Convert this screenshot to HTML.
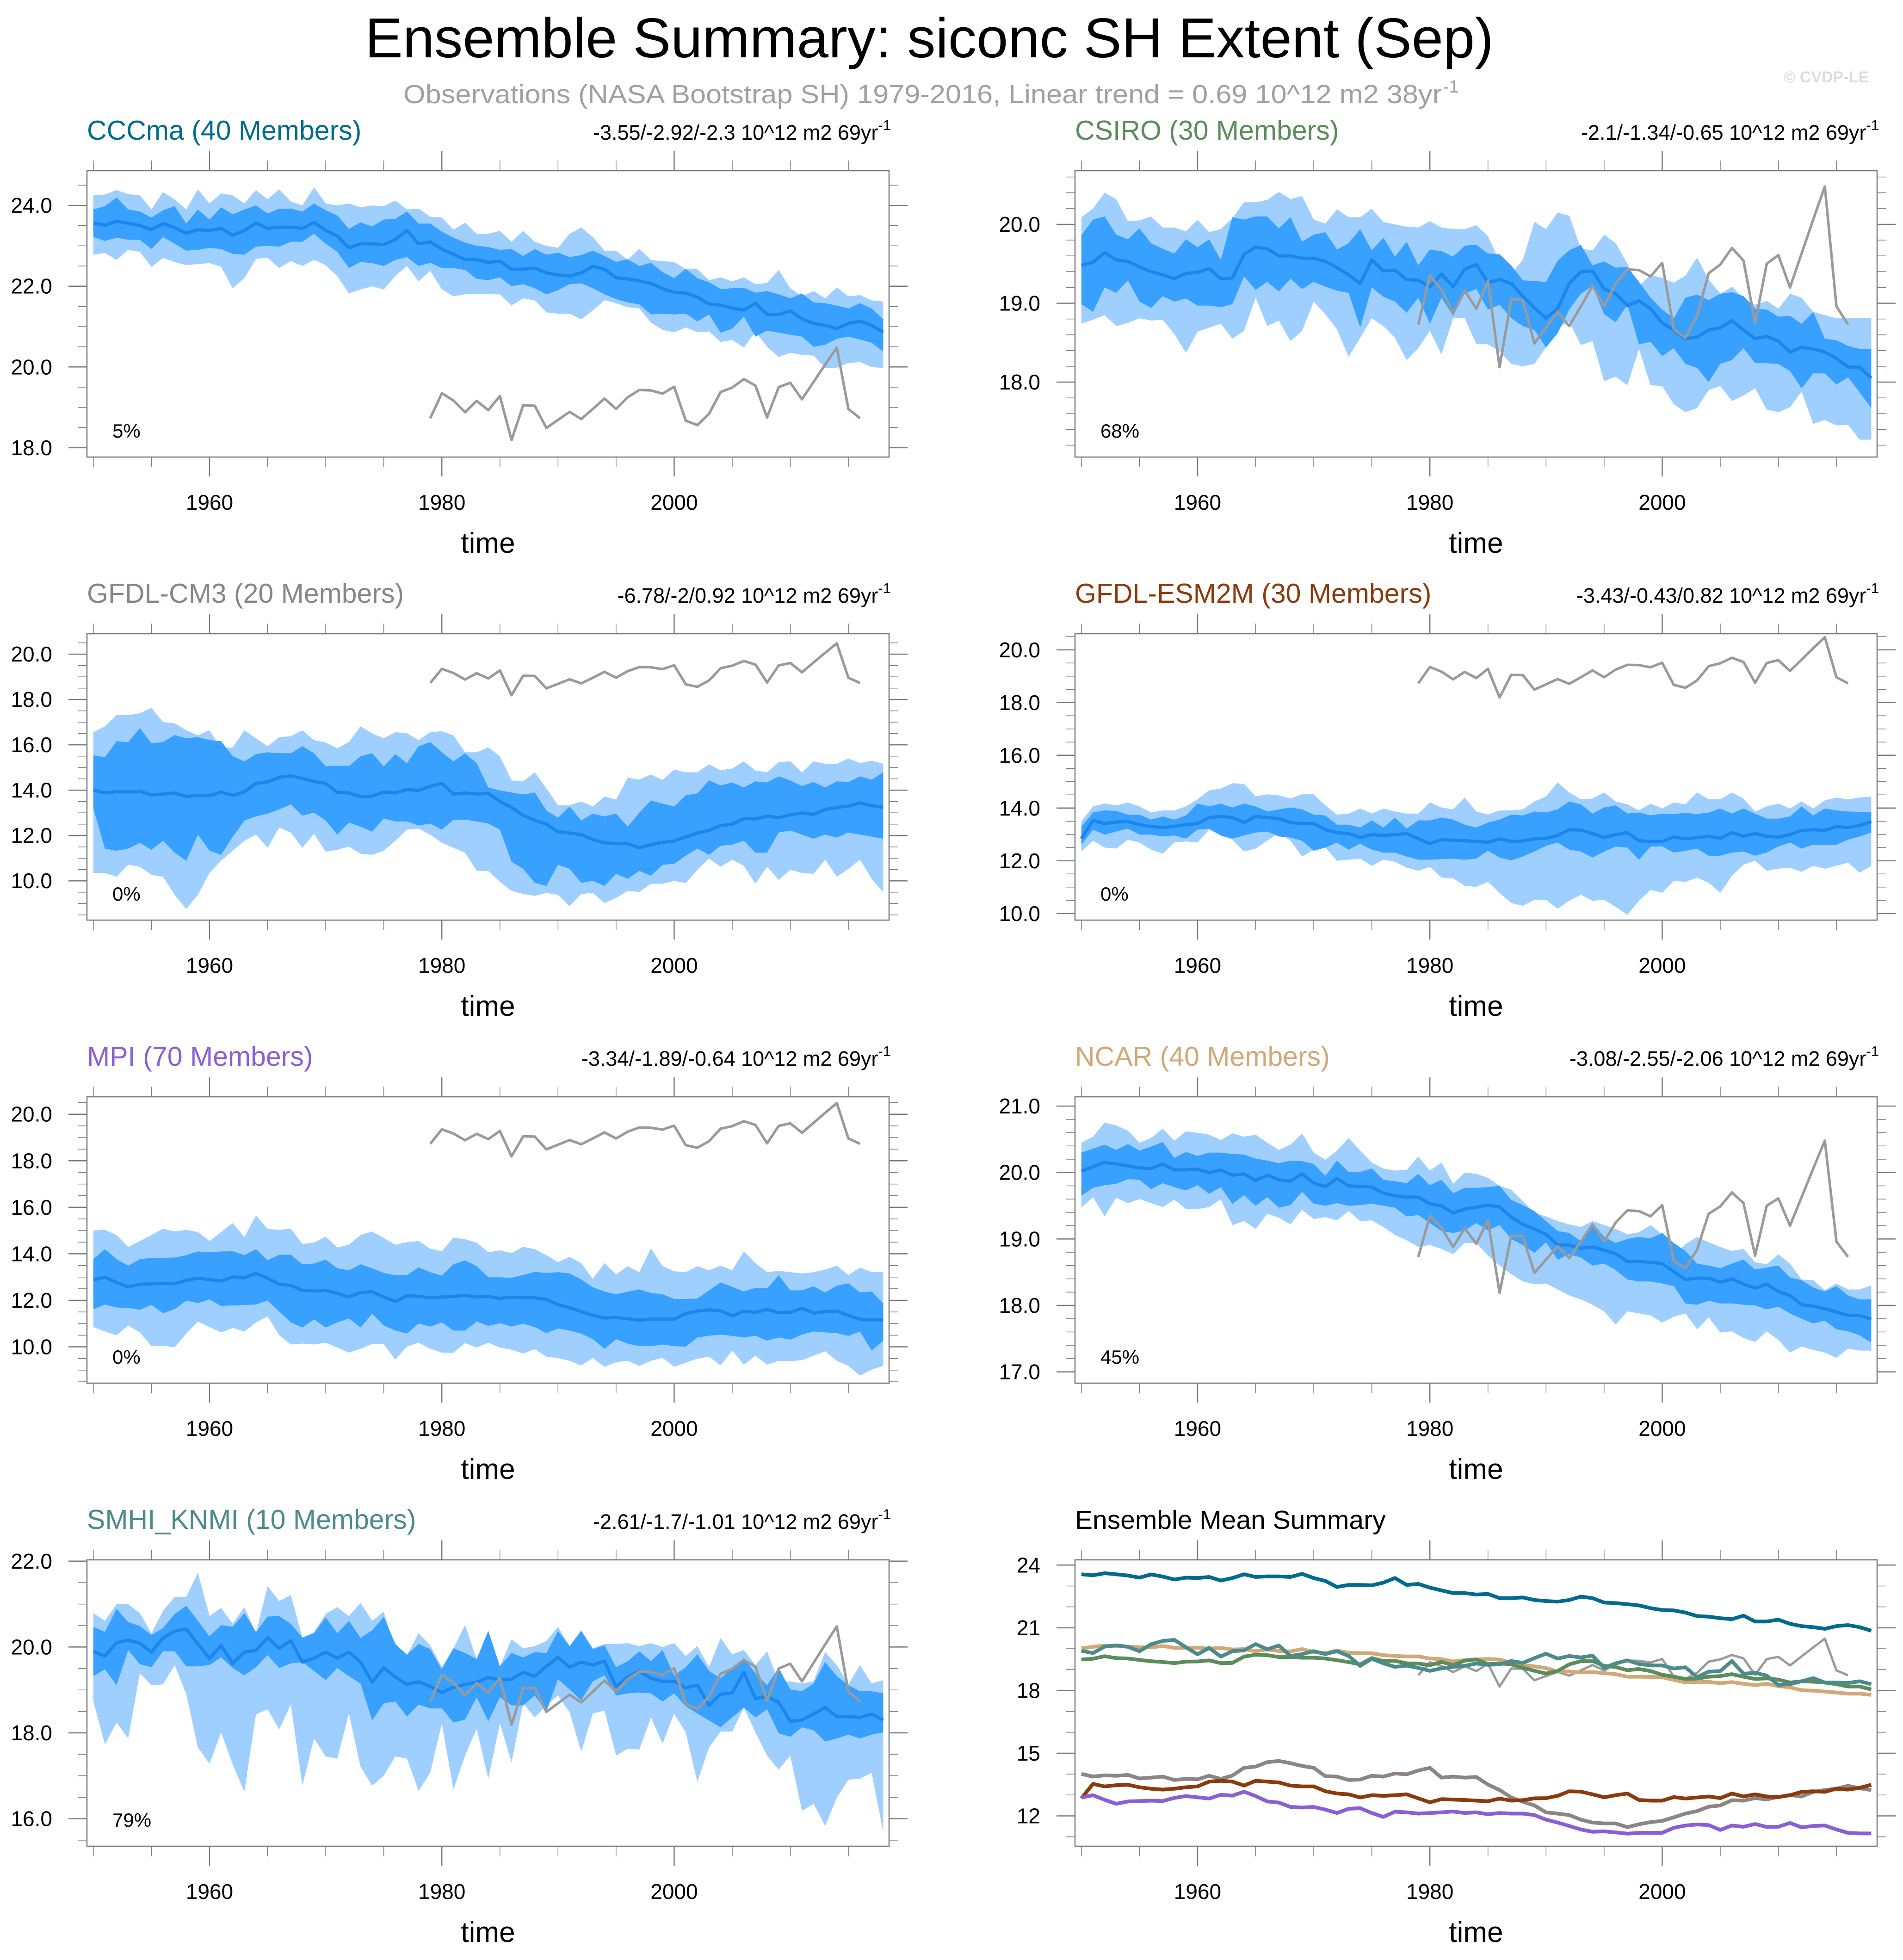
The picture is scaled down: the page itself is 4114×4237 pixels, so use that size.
<!DOCTYPE html>
<html><head><meta charset="utf-8"><title>Ensemble Summary: siconc SH Extent (Sep)</title>
<style>
html,body{margin:0;padding:0;background:#fff;}
svg{display:block;font-family:"Liberation Sans",Arial,sans-serif;}
</style></head>
<body>
<svg id="chart" xmlns="http://www.w3.org/2000/svg" width="4114" height="4237" viewBox="0 0 4114 4237">
<rect x="0" y="0" width="4114" height="4237" fill="#fff"/>
<text x="2009" y="124" text-anchor="middle" font-size="122" fill="#000" textLength="2440" lengthAdjust="spacingAndGlyphs">Ensemble Summary: siconc SH Extent (Sep)</text>
<text x="872" y="223" font-size="57" fill="#a0a0a0" textLength="2245" lengthAdjust="spacingAndGlyphs">Observations (NASA Bootstrap SH) 1979-2016, Linear trend = 0.69 10^12 m2 38yr</text>
<text x="3120" y="200" font-size="38" fill="#a0a0a0">-1</text>
<text x="4040" y="178" text-anchor="end" font-size="34" font-weight="bold" fill="#dcdcdc">© CVDP-LE</text>
<g id="panels"></g>
</svg>
<script>
// ---- shared data ----
const firstYear = 1950;
const obsFirstYear = 1979;
const xTickYears = [1960, 1980, 2000];
const obsValues = [18.73,19.35,19.17,18.88,19.16,18.93,19.28,18.19,19.05,19.04,18.49,18.69,18.89,18.71,18.96,19.22,18.96,19.25,19.43,19.42,19.34,19.51,18.67,18.56,18.84,19.38,19.49,19.70,19.54,18.75,19.50,19.61,19.20,19.63,20.06,20.48,18.96,18.73];

// ---- CCCma ----
const cccmaMean = [23.56,23.51,23.61,23.56,23.50,23.40,23.55,23.45,23.31,23.40,23.38,23.43,23.26,23.38,23.56,23.43,23.46,23.46,23.43,23.58,23.38,23.24,22.95,23.05,23.05,23.03,23.16,23.38,23.05,23.10,22.92,22.79,22.66,22.66,22.59,22.62,22.42,22.42,22.45,22.33,22.28,22.25,22.33,22.49,22.42,22.21,22.18,22.13,22.07,21.94,21.85,21.83,21.73,21.56,21.53,21.46,21.41,21.58,21.30,21.30,21.39,21.19,21.08,21.03,20.95,21.08,21.13,21.03,20.86];
const cccmaInHi = [23.90,23.98,24.20,23.90,23.85,23.70,23.88,23.98,23.55,23.90,23.65,23.95,23.78,23.90,24.00,23.80,23.92,23.92,23.85,24.05,23.88,23.75,23.42,23.58,23.48,23.65,23.67,23.85,23.55,23.55,23.35,23.20,23.08,23.00,22.97,22.90,22.92,22.75,22.92,22.78,22.83,22.72,22.77,22.88,22.75,22.60,22.67,22.50,22.58,22.35,22.20,22.43,22.20,22.10,21.93,21.95,21.96,21.84,21.88,21.80,21.70,21.82,21.60,21.58,21.52,21.45,21.58,21.45,21.18];
const cccmaInLo = [23.22,23.12,23.20,23.15,23.15,22.92,23.22,23.05,22.88,22.90,22.95,22.92,22.80,22.78,22.98,23.00,22.98,23.10,23.10,23.30,23.05,22.85,22.45,22.60,22.57,22.50,22.65,22.72,22.50,22.58,22.45,22.45,22.40,22.18,22.15,22.22,22.00,22.05,21.95,21.80,21.90,22.05,22.07,21.95,21.80,21.68,21.60,21.55,21.30,21.32,21.30,21.32,21.13,21.30,20.85,20.95,21.25,20.75,20.90,20.85,20.80,20.75,20.50,20.55,20.70,20.75,20.68,20.60,20.38];
const cccmaOutHi = [24.25,24.27,24.38,24.28,24.25,23.90,24.33,24.15,23.90,24.40,24.05,24.30,24.25,24.05,24.38,24.15,24.40,24.10,24.00,24.45,24.05,24.00,24.05,23.95,24.00,23.98,24.12,23.90,23.92,23.72,23.70,23.40,23.57,23.30,23.30,23.37,23.10,23.37,23.10,23.00,22.95,23.30,23.45,23.22,22.88,22.88,22.65,22.93,22.65,22.62,22.60,22.42,22.42,22.15,22.22,22.12,22.22,22.05,22.08,22.40,21.95,21.75,21.88,21.70,21.97,21.75,21.78,21.65,21.62];
const cccmaOutLo = [22.78,22.82,22.65,22.90,22.85,22.48,22.70,22.60,22.52,22.55,22.57,22.48,21.95,22.20,22.68,22.70,22.45,22.62,22.50,22.65,22.52,22.25,21.82,21.92,22.00,21.92,22.25,22.50,22.12,22.38,21.92,21.75,21.80,21.81,21.80,21.80,21.52,21.70,21.65,21.35,21.32,21.32,21.18,21.40,21.65,21.58,21.48,21.45,21.10,20.92,20.86,20.98,20.86,20.88,20.62,20.67,20.48,20.88,20.50,20.25,20.35,20.30,20.28,19.98,19.98,20.10,20.12,20.00,19.97];

// ---- CSIRO ----
const csiroMean = [19.48,19.52,19.64,19.55,19.53,19.46,19.40,19.36,19.31,19.38,19.39,19.44,19.31,19.32,19.62,19.71,19.69,19.60,19.60,19.57,19.57,19.53,19.45,19.36,19.25,19.55,19.41,19.42,19.30,19.29,19.21,19.37,19.21,19.43,19.49,19.26,19.30,19.25,19.09,18.94,18.81,18.93,19.25,19.40,19.41,19.18,19.12,18.97,19.03,18.93,18.75,18.66,18.55,18.57,18.66,18.69,18.78,18.66,18.55,18.58,18.52,18.38,18.44,18.42,18.38,18.30,18.19,18.19,18.05];
const csiroInHi = [19.86,20.06,20.10,19.87,19.81,19.95,19.76,19.69,19.63,19.81,19.71,19.81,19.55,20.09,20.06,20.10,20.10,19.95,20.09,19.78,19.87,19.90,19.68,19.76,19.94,19.67,19.83,19.59,19.78,19.48,19.68,19.66,19.59,19.73,19.74,19.63,19.62,19.48,19.29,19.28,19.27,19.54,19.67,19.74,19.48,19.53,19.45,19.46,19.27,19.07,18.92,18.81,19.07,19.11,19.04,19.12,19.14,19.09,18.93,18.92,18.83,18.84,18.74,18.89,18.55,18.53,18.46,18.42,18.42];
const csiroInLo = [18.99,18.89,19.20,19.13,19.29,19.02,18.94,19.09,19.02,19.06,18.97,18.97,18.95,18.99,19.34,19.17,19.27,19.15,19.31,19.18,19.27,19.21,19.16,19.13,18.69,19.20,19.08,19.02,18.88,19.07,18.74,19.07,18.84,19.12,19.18,18.92,18.98,18.81,18.71,18.66,18.44,18.62,18.92,19.12,19.22,18.86,18.76,18.98,18.48,18.51,18.33,18.43,18.23,18.18,18.00,18.23,18.28,18.43,18.24,18.24,18.23,18.14,17.92,18.11,18.11,17.97,18.06,17.87,17.67];
const csiroOutHi = [20.09,20.20,20.40,20.32,20.04,20.05,20.10,19.96,19.96,19.91,20.06,19.90,19.94,20.08,20.28,20.28,20.31,20.41,20.32,20.36,20.06,20.01,20.19,20.09,20.09,20.20,20.03,20.00,19.97,19.96,20.04,19.96,19.94,19.94,19.99,19.85,19.53,19.37,19.55,20.03,19.94,20.15,20.11,19.69,19.67,19.87,19.76,19.50,19.22,19.36,19.32,19.26,19.35,19.58,19.30,19.12,19.21,19.07,18.98,19.03,18.93,19.12,19.07,18.89,18.85,18.81,18.81,18.81,18.81];
const csiroOutLo = [18.74,18.79,18.85,18.71,18.75,18.81,18.78,18.79,18.61,18.37,18.64,18.69,18.74,18.55,18.65,19.07,18.71,18.78,18.52,18.65,19.02,18.86,18.67,18.32,18.56,18.81,18.71,18.56,18.28,18.43,18.65,18.35,18.81,18.81,18.48,18.48,18.39,18.23,18.20,18.23,18.44,18.69,18.76,18.47,18.52,18.01,18.07,17.96,18.42,17.96,17.95,17.72,17.62,17.67,17.90,17.95,17.76,17.83,17.92,17.65,17.62,17.68,17.88,17.47,17.52,17.45,17.46,17.27,17.27];

// ---- GFDL-CM3 ----
const cm3Mean = [14.01,13.88,13.94,13.92,13.96,13.79,13.83,13.88,13.72,13.77,13.75,13.92,13.77,13.93,14.30,14.36,14.57,14.63,14.52,14.39,14.30,13.90,13.88,13.72,13.74,13.92,13.88,14.03,13.99,14.17,14.30,13.83,13.88,13.83,13.86,13.50,13.24,12.88,12.68,12.50,12.17,12.11,12.04,11.82,11.68,11.64,11.64,11.46,11.60,11.70,11.76,11.93,12.11,12.23,12.44,12.50,12.75,12.73,12.85,12.79,12.91,13.00,12.93,13.15,13.24,13.30,13.44,13.32,13.24];
const cm3InHi = [15.54,15.45,16.16,16.12,16.74,16.07,16.12,16.43,16.29,16.34,16.21,16.16,15.50,15.27,15.59,15.67,15.63,15.63,15.94,15.63,15.05,15.08,15.07,15.50,15.63,15.05,15.59,15.19,15.94,16.12,15.67,15.27,15.63,15.19,14.12,13.99,13.90,13.81,13.90,13.10,12.79,13.28,12.66,12.97,12.84,12.97,12.39,13.01,13.55,13.41,13.28,13.77,13.86,14.43,14.21,14.34,14.12,14.39,14.34,14.61,14.43,14.18,14.36,14.12,14.39,14.36,14.61,14.46,14.79];
const cm3InLo = [13.19,11.42,11.33,11.42,11.68,11.37,11.77,11.24,10.89,12.04,11.33,11.15,11.95,12.66,12.84,12.97,13.15,13.37,12.88,13.01,12.66,12.04,12.57,12.39,12.17,12.75,12.62,12.62,12.44,12.53,12.26,12.70,12.70,12.62,12.53,12.26,10.84,10.53,9.91,9.78,10.71,10.53,9.91,10.00,9.78,10.31,10.09,10.44,10.22,10.71,10.75,11.11,11.42,11.15,11.55,11.60,11.77,11.24,11.24,12.13,12.22,12.04,11.86,12.04,11.91,12.13,12.04,11.95,11.86];
const cm3OutHi = [16.56,16.82,17.31,17.31,17.39,17.63,17.00,16.95,16.64,16.42,16.64,15.85,15.89,16.64,16.29,15.94,16.34,16.38,16.64,16.21,16.10,15.85,16.12,16.82,16.51,16.29,16.56,16.51,16.21,16.56,16.60,16.42,15.67,15.67,15.89,15.50,14.43,14.39,14.79,14.08,13.33,13.33,13.50,13.28,13.72,13.59,14.55,14.47,14.69,14.45,14.91,14.79,14.79,15.14,14.87,14.96,15.27,14.87,14.79,15.23,15.27,14.79,15.27,15.16,15.16,15.40,15.20,15.30,15.16];
const cm3OutLo = [10.35,10.35,10.18,10.71,10.62,10.27,10.18,9.38,8.76,9.38,10.35,10.89,11.33,11.77,12.04,11.46,12.35,12.13,11.46,12.08,11.29,11.37,11.51,11.20,11.15,11.33,11.77,12.26,12.30,12.04,11.68,11.46,11.24,10.44,10.44,9.96,9.56,9.42,9.34,9.47,9.38,8.89,9.42,9.47,9.02,9.25,9.56,9.51,9.87,9.87,10.00,9.91,10.49,10.98,10.62,10.93,10.67,9.87,10.62,10.04,10.49,10.35,10.31,10.93,10.18,10.53,10.93,10.09,9.51];

// ---- GFDL-ESM2M ----
const esmMean = [12.84,13.53,13.41,13.47,13.49,13.37,13.30,13.26,13.30,13.37,13.41,13.64,13.68,13.64,13.45,13.68,13.64,13.60,13.45,13.41,13.41,13.18,13.07,13.03,12.88,12.99,12.96,12.99,13.03,12.84,12.65,12.80,12.78,12.76,12.73,12.70,12.83,12.73,12.75,12.84,12.85,12.96,13.18,13.16,13.03,12.89,12.99,13.07,12.76,12.73,12.73,12.90,12.83,12.88,12.93,12.85,13.07,12.93,13.03,12.93,12.90,12.99,13.15,13.18,13.15,13.30,13.26,13.34,13.49];
const esmInHi = [13.30,13.83,13.91,13.89,13.75,13.75,13.56,13.68,13.56,13.72,14.17,14.06,14.17,14.02,14.17,14.06,13.87,13.95,14.02,13.95,13.75,13.72,13.37,13.37,13.26,13.53,13.26,13.64,13.22,13.53,13.53,13.64,13.56,13.37,13.26,13.45,13.56,13.75,13.72,13.87,13.83,13.95,14.25,14.14,13.79,14.02,14.10,13.79,13.83,13.72,13.79,13.77,13.82,13.77,13.83,13.98,13.79,13.98,13.79,13.60,13.60,13.68,14.06,13.72,13.98,13.91,13.87,13.85,13.83];
const esmInLo = [12.61,13.18,12.99,13.11,13.22,12.99,12.99,12.92,12.96,12.84,13.18,13.22,12.96,12.84,12.96,13.07,13.11,12.92,12.88,12.76,12.38,12.50,12.69,12.42,12.65,12.42,12.31,12.31,12.16,12.04,12.04,12.06,12.08,12.04,12.08,12.38,12.12,12.02,12.16,12.35,12.57,12.69,12.42,12.35,12.12,12.35,12.54,12.50,12.04,12.54,12.55,12.31,12.38,12.46,12.19,12.19,12.31,12.35,12.19,12.31,12.54,12.69,12.46,12.61,12.61,12.61,12.80,12.92,13.07];
const esmOutHi = [13.49,14.06,14.17,14.10,14.21,14.06,13.83,13.91,13.91,14.06,14.33,14.67,14.74,14.94,14.92,14.44,14.52,14.48,14.36,14.52,14.52,14.10,13.75,13.79,13.98,13.79,13.98,13.87,13.79,13.79,14.21,14.02,13.95,14.40,13.87,13.75,13.91,13.91,13.95,14.25,14.44,14.97,14.59,14.33,14.36,14.59,14.25,14.14,13.91,14.17,13.98,14.21,14.14,14.59,14.33,14.33,14.59,14.36,13.87,14.06,14.17,13.98,14.25,13.98,14.29,14.40,14.33,14.40,14.44];
const esmOutLo = [12.35,12.76,12.50,12.46,12.80,12.69,12.42,12.27,12.69,12.73,12.69,13.18,12.96,12.80,12.35,12.46,12.76,13.07,12.76,12.16,12.42,12.50,12.00,12.04,12.08,11.81,12.04,11.96,11.74,11.62,11.77,11.36,11.33,11.05,11.01,11.20,10.78,10.40,10.29,10.52,10.52,10.18,10.48,10.71,10.48,10.52,10.25,9.95,10.48,10.90,10.78,11.24,11.20,11.36,11.17,10.78,11.43,11.85,12.00,11.62,11.70,11.74,11.58,11.81,11.70,11.81,11.93,11.55,11.81];

// ---- MPI ----
const mpiMean = [12.88,12.99,12.77,12.58,12.69,12.71,12.73,12.71,12.86,12.95,12.89,12.83,13.01,12.97,13.16,12.95,12.69,12.64,12.43,12.40,12.43,12.30,12.14,12.34,12.37,12.14,11.95,12.20,12.17,12.11,12.14,12.17,12.21,12.14,12.17,12.08,12.14,12.11,12.11,12.04,11.82,11.68,11.52,11.35,11.24,11.26,11.21,11.15,11.19,11.19,11.19,11.43,11.54,11.59,11.56,11.33,11.54,11.48,11.61,11.47,11.48,11.66,11.45,11.52,11.54,11.35,11.19,11.16,11.16];
const mpiInHi = [13.77,14.20,13.77,13.49,13.77,13.83,13.83,13.84,13.94,14.10,14.07,14.10,14.11,13.94,14.20,13.72,13.96,13.96,13.55,13.58,13.75,13.38,13.29,13.55,13.38,13.18,13.08,13.09,13.42,13.21,13.06,13.55,13.72,13.47,12.99,12.99,12.97,13.09,13.22,13.18,13.21,13.16,12.90,12.56,12.38,12.26,12.37,12.47,12.32,12.26,12.06,12.06,12.08,12.43,12.77,12.58,12.38,12.54,12.51,13.08,12.43,12.43,12.60,12.34,12.63,12.73,12.34,12.38,11.87];
const mpiInLo = [11.62,11.82,11.69,11.68,11.59,11.80,11.45,11.62,11.99,11.88,12.04,11.76,11.78,11.80,11.82,11.99,11.52,11.05,10.83,11.18,10.83,11.05,11.22,10.83,11.42,10.92,10.70,10.57,11.00,10.87,11.05,10.70,10.70,11.09,10.90,11.02,10.87,11.00,10.85,10.59,10.79,10.70,10.57,10.33,9.92,10.33,10.14,10.03,10.03,10.10,10.03,10.01,10.40,10.48,10.53,10.47,10.40,10.48,10.27,10.40,10.31,10.53,10.66,10.62,10.59,10.47,10.66,9.84,10.27];
const mpiOutHi = [15.00,15.03,14.81,14.29,14.55,14.81,15.08,14.96,15.03,14.94,14.55,14.94,15.32,14.72,15.65,15.07,15.03,15.08,14.42,14.48,14.74,14.27,14.39,14.81,14.96,14.68,14.39,14.50,14.55,14.22,14.11,14.70,14.63,14.48,14.07,14.15,14.03,14.30,14.20,13.94,13.64,13.87,13.60,12.92,13.60,13.12,13.47,13.21,14.24,13.47,13.25,13.21,13.47,13.29,13.49,13.29,14.11,13.60,13.21,13.27,13.21,13.16,13.21,13.32,13.49,13.09,13.41,13.21,13.21];
const mpiOutLo = [10.85,10.66,10.50,10.92,10.62,10.03,10.05,9.98,10.57,11.09,10.85,10.62,10.81,10.66,11.05,11.31,10.50,10.10,10.14,10.10,10.18,9.97,9.75,9.92,10.12,10.12,9.45,10.01,10.18,9.92,9.75,9.75,10.16,9.97,10.18,9.97,9.88,9.71,9.90,9.58,9.52,9.40,9.20,9.52,9.14,9.34,9.40,9.18,9.40,9.53,9.14,9.32,9.49,9.58,9.20,9.84,9.23,9.62,9.23,9.40,9.38,9.43,9.62,9.81,9.40,9.18,8.76,9.02,9.18];

// ---- NCAR ----
const ncarMean = [20.02,20.09,20.15,20.13,20.10,20.07,20.06,20.13,20.04,20.04,20.05,20.00,20.04,19.96,19.98,19.88,19.96,19.89,19.87,19.98,19.84,19.79,19.91,19.80,19.79,19.78,19.69,19.65,19.63,19.63,19.53,19.50,19.39,19.45,19.48,19.51,19.48,19.33,19.22,19.15,19.07,18.91,18.91,18.86,18.88,18.83,18.78,18.66,18.66,18.65,18.63,18.51,18.39,18.41,18.41,18.35,18.40,18.32,18.26,18.32,18.21,18.15,18.01,17.99,17.95,17.90,17.85,17.85,17.79];
const ncarInHi = [20.30,20.36,20.42,20.34,20.43,20.33,20.39,20.46,20.22,20.31,20.25,20.30,20.30,20.28,20.27,20.21,20.18,20.14,20.18,20.17,20.13,19.95,20.18,20.01,20.01,20.06,19.89,19.87,19.84,19.98,19.81,19.89,19.69,19.77,19.77,19.78,19.80,19.59,19.51,19.42,19.27,19.12,19.09,18.97,19.24,19.03,18.94,19.00,19.03,19.01,19.09,18.94,18.82,18.63,18.60,18.56,18.63,18.69,18.54,18.57,18.60,18.42,18.38,18.27,18.21,18.29,18.15,18.09,18.09];
const ncarInLo = [19.65,19.77,19.81,19.83,19.90,19.89,19.75,19.84,19.78,19.73,19.81,19.68,19.78,19.53,19.66,19.50,19.63,19.47,19.51,19.71,19.53,19.50,19.54,19.50,19.51,19.53,19.50,19.47,19.34,19.36,19.24,19.12,19.09,19.13,19.24,19.13,19.21,19.00,18.91,18.79,18.95,18.69,18.77,18.72,18.60,18.63,18.53,18.39,18.36,18.36,18.33,18.29,18.03,18.01,18.07,18.03,18.03,18.01,18.00,17.94,17.98,17.88,17.80,17.73,17.77,17.64,17.61,17.55,17.44];
const ncarOutHi = [20.45,20.54,20.75,20.71,20.63,20.45,20.52,20.66,20.48,20.62,20.60,20.57,20.49,20.59,20.54,20.57,20.45,20.34,20.42,20.59,20.30,20.19,20.33,20.52,20.33,20.15,20.06,20.03,20.04,20.24,20.03,20.15,19.83,20.00,19.98,19.92,19.80,19.74,19.57,19.39,19.34,19.27,19.22,19.18,19.27,19.21,19.15,19.07,19.10,19.21,19.07,18.76,18.92,19.03,18.95,18.88,18.82,18.85,18.65,18.62,18.77,18.63,18.39,18.38,18.23,18.33,18.24,18.24,18.30];
const ncarOutLo = [19.47,19.63,19.34,19.62,19.54,19.60,19.54,19.48,19.59,19.45,19.45,19.48,19.60,19.21,19.27,19.15,19.38,19.32,19.22,19.44,19.30,19.33,19.28,19.42,19.27,19.28,19.18,19.06,18.98,18.88,18.91,18.85,18.77,18.94,18.94,18.75,18.60,18.47,18.36,18.32,18.33,18.24,18.15,18.09,18.01,17.91,17.71,17.91,17.88,17.85,17.74,17.83,17.88,17.64,17.82,17.59,17.61,17.51,17.45,17.61,17.48,17.29,17.38,17.33,17.29,17.21,17.35,17.32,17.32];

// ---- SMHI_KNMI ----
const smhiMean = [19.90,19.79,20.10,20.16,20.09,19.88,20.21,20.37,20.42,20.07,19.73,20.04,19.62,19.88,19.92,20.22,19.97,20.15,19.65,19.74,19.88,19.74,19.88,19.65,19.18,19.52,19.30,19.13,19.19,19.08,18.94,19.06,19.13,19.18,19.29,19.23,19.25,19.41,19.32,19.55,19.76,19.53,19.65,19.58,19.67,19.08,19.30,19.44,19.27,19.20,19.20,19.05,19.11,18.64,18.90,18.93,19.41,18.80,18.85,18.71,18.27,18.30,18.44,18.59,18.38,18.38,18.36,18.44,18.30];
const smhiInHi = [20.47,20.35,20.89,20.58,20.49,20.28,20.44,20.77,20.96,20.61,20.25,20.51,20.47,20.79,20.35,20.71,20.72,20.54,20.22,20.32,20.69,20.32,20.61,20.21,20.39,20.70,20.07,19.82,20.07,19.95,19.48,19.97,19.86,19.72,20.37,19.55,19.86,19.76,19.88,19.86,20.37,20.02,20.37,19.95,20.04,19.53,19.67,19.90,19.67,19.93,19.34,19.53,19.83,19.44,19.27,19.53,19.74,19.39,19.11,19.51,19.01,18.97,19.15,19.65,19.32,19.11,18.97,18.97,18.92];
const smhiInLo = [19.32,19.48,19.11,19.93,19.60,19.53,19.90,19.90,19.55,19.55,19.58,19.76,19.51,19.34,19.53,19.81,19.51,19.62,19.65,19.44,19.23,19.51,19.32,19.15,18.29,18.69,18.73,18.38,18.66,18.57,18.57,18.24,18.31,18.83,18.27,18.83,18.64,18.64,18.87,18.50,19.25,19.01,18.76,19.20,19.34,18.87,18.92,18.94,18.92,18.73,18.92,18.62,18.45,18.29,18.13,18.36,18.59,18.36,18.55,17.99,17.91,18.13,18.06,17.80,17.87,17.96,17.87,17.96,18.01];
const smhiOutHi = [20.79,20.61,21.00,21.00,20.79,20.32,20.84,21.17,21.17,21.73,20.72,20.91,20.54,20.93,20.32,21.42,21.07,21.21,20.21,20.35,20.77,20.93,20.72,21.03,20.61,20.82,19.95,19.81,20.32,20.04,19.53,19.97,20.51,19.72,20.39,19.55,20.18,19.97,20.02,20.14,20.47,20.02,20.39,19.97,20.07,20.07,20.09,20.02,20.09,20.00,20.09,19.79,20.02,19.53,20.21,19.83,19.93,19.58,19.90,19.18,19.20,19.15,19.20,19.88,19.58,19.13,19.58,19.15,19.23];
const smhiOutLo = [18.73,17.73,18.24,17.87,19.39,19.11,19.13,19.58,18.90,17.66,17.28,18.01,17.26,16.63,18.43,18.55,18.08,18.66,16.77,17.87,17.45,17.40,18.45,17.21,16.77,17.00,17.45,17.40,16.65,17.07,18.22,16.68,17.47,18.10,16.93,18.22,17.31,18.69,18.36,18.64,18.87,18.48,17.56,18.45,18.52,17.47,17.63,17.61,18.36,17.75,18.45,18.01,16.86,17.66,18.03,18.03,18.59,18.01,17.47,17.14,17.47,16.18,16.35,15.83,16.49,16.91,16.93,17.07,15.69];

// ---- panel configuration (labels/axes) ----
const modelNames = ["CCCma","CSIRO","GFDL-CM3","GFDL-ESM2M","MPI","NCAR","SMHI_KNMI"];
const modelMembers = [40,30,20,30,70,40,10];
const trendLabels = ["-3.55/-2.92/-2.3","-2.1/-1.34/-0.65","-6.78/-2/0.92","-3.43/-0.43/0.82","-3.34/-1.89/-0.64","-3.08/-2.55/-2.06","-2.61/-1.7/-1.01"];
const pctLabels = ["5%","68%","0%","0%","0%","45%","79%"];
const yTicksList = [[18,20,22,24],[18,19,20],[10,12,14,16,18,20],[10,12,14,16,18,20],[10,12,14,16,18,20],[17,18,19,20,21],[16,18,20,22]];
const summaryTicks = [12,15,18,21,24];

const meanSeries = [cccmaMean,csiroMean,cm3Mean,esmMean,mpiMean,ncarMean,smhiMean];
const inHiSeries = [cccmaInHi,csiroInHi,cm3InHi,esmInHi,mpiInHi,ncarInHi,smhiInHi];
const inLoSeries = [cccmaInLo,csiroInLo,cm3InLo,esmInLo,mpiInLo,ncarInLo,smhiInLo];
const outHiSeries = [cccmaOutHi,csiroOutHi,cm3OutHi,esmOutHi,mpiOutHi,ncarOutHi,smhiOutHi];
const outLoSeries = [cccmaOutLo,csiroOutLo,cm3OutLo,esmOutLo,mpiOutLo,ncarOutLo,smhiOutLo];

// ---- styling / layout (not data) ----
const modelColors = ["#006b8f","#5b8c5a","#8c8585","#8b3a0b","#8a5fd6","#d2a878","#4b8b8b"];
const yDomains = [[17.77,24.86],[17.05,20.68],[8.27,20.9],[9.75,20.61],[8.44,20.75],[16.83,21.14],[15.36,22.03]];
const yMinorSteps = [0.5,0.2,0.5,0.5,0.5,0.2,0.5];
const summaryDomain = [10.55,24.25];
const BOX_W = 1734, BOX_H = 619;
const COL_X = [188, 2324];
const ROW_Y = [369, 1370, 2371, 3372];
const X_MIN = 1949.45, X_MAX = 2018.5;

const NS = "http://www.w3.org/2000/svg";
const root = document.getElementById("panels");
function mk(tag, attrs, parent) {
  const el = document.createElementNS(NS, tag);
  for (const k in attrs) el.setAttribute(k, attrs[k]);
  (parent || root).appendChild(el);
  return el;
}
function xScale(x0) { return yr => x0 + (yr - X_MIN) / (X_MAX - X_MIN) * BOX_W; }
function yScale(y0, dom) { return v => y0 + BOX_H - (v - dom[0]) / (dom[1] - dom[0]) * BOX_H; }

function drawAxes(g, x0, y0, sx, sy, dom, majors, minorStep, fmt) {
  const tickCol = "#7a7a7a";
  for (let yr = 1950; yr <= 2015; yr += 5) {
    const x = sx(yr);
    const major = xTickYears.indexOf(yr) >= 0;
    const len = major ? 42 : 22;
    const t1 = mk("line", {x1:x, y1:y0, x2:x, y2:y0-len, stroke:tickCol, "stroke-width":major?2.5:1.5}, g);
    
    
    const t2 = mk("line", {x1:x, y1:y0+BOX_H, x2:x, y2:y0+BOX_H+len, stroke:tickCol, "stroke-width":major?2.5:1.5}, g);
    
    
  }
  xTickYears.forEach(yr => {
    const t = mk("text", {x:sx(yr), y:y0+BOX_H+114, "text-anchor":"middle", "font-size":46, fill:"#000"}, g);
    t.textContent = String(yr);
    
    
  });
  const start = Math.ceil(dom[0] / minorStep - 1e-6) * minorStep;
  for (let v = start; v <= dom[1] + 1e-9; v += minorStep) {
    const y = sy(v);
    const isMajor = majors.some(m => Math.abs(m - v) < 1e-6);
    const len = isMajor ? 40 : 20;
    const a = mk("line", {x1:x0, y1:y, x2:x0-len, y2:y, stroke:tickCol, "stroke-width":isMajor?2.5:1.5}, g);
    
    
    const b = mk("line", {x1:x0+BOX_W, y1:y, x2:x0+BOX_W+len, y2:y, stroke:tickCol, "stroke-width":isMajor?2.5:1.5}, g);
    
    
  }
  majors.forEach(m => {
    const t = mk("text", {x:x0-75, y:sy(m)+16, "text-anchor":"end", "font-size":46, fill:"#000"}, g);
    t.textContent = fmt(m);
    
    
  });
  const lbl = mk("text", {x:x0+BOX_W/2, y:y0+BOX_H+207, "text-anchor":"middle", "font-size":62, fill:"#000"}, g);
  lbl.textContent = "time";
  
  
}

function pathFrom(arr, sx, sy, startYr) {
  return arr.map((v, i) => (i ? "L" : "M") + sx(startYr + i).toFixed(1) + "," + sy(v).toFixed(1)).join("");
}
function bandFrom(hi, lo, sx, sy) {
  let d = hi.map((v, i) => (i ? "L" : "M") + sx(firstYear + i).toFixed(1) + "," + sy(v).toFixed(1)).join("");
  for (let i = lo.length - 1; i >= 0; i--) d += "L" + sx(firstYear + i).toFixed(1) + "," + sy(lo[i]).toFixed(1);
  return d + "Z";
}

function addClip(id, x0, y0) {
  let defs = document.getElementById("defs");
  if (!defs) { defs = mk("defs", {id:"defs"}); }
  const cp = mk("clipPath", {id:id}, defs);
  mk("rect", {x:x0, y:y0, width:BOX_W, height:BOX_H}, cp);
}

// ---- model panels ----
for (let m = 0; m < 7; m++) {
  const col = m % 2, row = Math.floor(m / 2);
  const x0 = COL_X[col], y0 = ROW_Y[row];
  const g = mk("g", {});
  
  
  const sx = xScale(x0), sy = yScale(y0, yDomains[m]);
  const clipId = "clip" + m;
  addClip(clipId, x0, y0);
  const frame = mk("rect", {x:x0, y:y0, width:BOX_W, height:BOX_H, fill:"#fff", stroke:"#777", "stroke-width":2.5}, g);
  
  
  const dg = mk("g", {"clip-path":"url(#" + clipId + ")"}, g);
  
  
  const outer = mk("path", {d:bandFrom(outHiSeries[m], outLoSeries[m], sx, sy), fill:"#9fcfff"}, dg);
  
  
  const inner = mk("path", {d:bandFrom(inHiSeries[m], inLoSeries[m], sx, sy), fill:"#38a0ff"}, dg);
  
  
  const mean = mk("path", {d:pathFrom(meanSeries[m], sx, sy, firstYear), fill:"none", stroke:"#1c86ea", "stroke-width":7, "stroke-linejoin":"round"}, dg);
  
  
  const obs = mk("path", {d:pathFrom(obsValues, sx, sy, obsFirstYear), fill:"none", stroke:"#9a9a9a", "stroke-width":5.5, "stroke-linejoin":"round"}, dg);
  
  
  drawAxes(g, x0, y0, sx, sy, yDomains[m], yTicksList[m], yMinorSteps[m], v => v.toFixed(1));
  const title = mk("text", {x:x0, y:y0-67, "font-size":59, fill:modelColors[m]}, g);
  title.textContent = modelNames[m] + " (" + modelMembers[m] + " Members)";
  
  
  const tr = mk("text", {x:x0+BOX_W+4, y:y0-67, "text-anchor":"end", "font-size":45, fill:"#000"}, g);
  tr.textContent = trendLabels[m] + " 10^12 m2 69yr";
  const sup = document.createElementNS(NS, "tspan");
  sup.setAttribute("dy", "-21");
  sup.setAttribute("font-size", "31");
  sup.textContent = "-1";
  tr.appendChild(sup);
  
  
  const pct = mk("text", {x:x0+55, y:y0+BOX_H-42, "font-size":42, fill:"#000"}, g);
  pct.textContent = pctLabels[m];
  
  
}

// ---- summary panel ----
(function () {
  const x0 = COL_X[1], y0 = ROW_Y[3];
  const g = mk("g", {});
  
  
  const sx = xScale(x0), sy = yScale(y0, summaryDomain);
  addClip("clipS", x0, y0);
  const frame = mk("rect", {x:x0, y:y0, width:BOX_W, height:BOX_H, fill:"#fff", stroke:"#777", "stroke-width":2.5}, g);
  
  
  const dg = mk("g", {"clip-path":"url(#clipS)"}, g);
  
  
  const obs = mk("path", {d:pathFrom(obsValues, sx, sy, obsFirstYear), fill:"none", stroke:"#9a9a9a", "stroke-width":5, "stroke-linejoin":"round"}, dg);
  
  
  const order = [5, 1, 6, 2, 3, 4, 0];
  order.forEach(m => {
    const p = mk("path", {d:pathFrom(meanSeries[m], sx, sy, firstYear), fill:"none", stroke:modelColors[m], "stroke-width":8, "stroke-linejoin":"round"}, dg);
    
    
  });
  drawAxes(g, x0, y0, sx, sy, summaryDomain, summaryTicks, 1, v => String(v));
  const title = mk("text", {x:x0, y:y0-67, "font-size":57, fill:"#000"}, g);
  title.textContent = "Ensemble Mean Summary";
  
  
})();
</script>
</body></html>
